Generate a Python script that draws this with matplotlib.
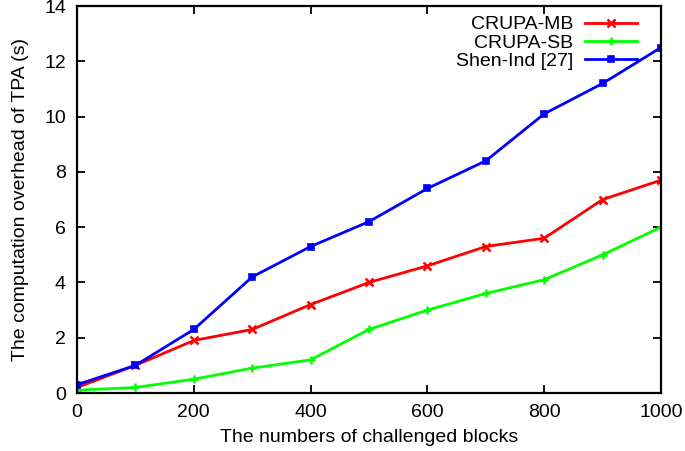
import matplotlib
matplotlib.use("Agg")
import matplotlib.pyplot as plt

plt.rcParams['font.family'] = ['Liberation Sans', 'DejaVu Sans']

# data
blocks = [0, 100, 200, 300, 400, 500, 600, 700, 800, 900, 1000]
crupa_mb = [0.2, 1.0, 1.9, 2.3, 3.2, 4.0, 4.6, 5.3, 5.6, 7.0, 7.7]
crupa_sb = [0.1, 0.2, 0.5, 0.9, 1.2, 2.3, 3.0, 3.6, 4.1, 5.0, 6.0]
shen_ind = [0.3, 1.0, 2.3, 4.2, 5.3, 6.2, 7.4, 8.4, 10.1, 11.2, 12.5]

fig = plt.figure(figsize=(6.85, 4.51), dpi=100)
ax = fig.add_axes([0.1124, 0.1286, 0.8526, 0.858])

ax.plot(blocks, crupa_mb, color='#ff0000', lw=2, marker='x', ms=6, mew=1.8, label='CRUPA-MB')
ax.plot(blocks, crupa_sb, color='#00ff00', lw=2, marker='+', ms=6, mew=1.8, label='CRUPA-SB')
ax.plot(blocks, shen_ind, color='#0000ff', lw=2, marker='s', ms=5, mew=1.2, label='Shen-Ind [27]')

ax.set_xlim(0, 1000)
ax.set_ylim(0, 14)
ax.set_xticks(range(0, 1001, 200))
ax.set_yticks(range(0, 15, 2))
ax.tick_params(direction='in', top=True, right=True, length=6, width=1.3,
               labelsize=14, pad=8)
for s in ax.spines.values():
    s.set_linewidth(1.6)

ax.set_xlabel('The numbers of challenged blocks', fontsize=14, labelpad=6)
ax.set_ylabel('The computation overhead of TPA (s)', fontsize=14, labelpad=11)

# gnuplot-style key: label on the left, sample on the right
leg = ax.legend(loc='upper right', bbox_to_anchor=(0.973, 0.995), markerfirst=False,
                frameon=False, fontsize=14, handlelength=2.7, borderaxespad=0,
                labelspacing=0.03, handletextpad=0.6)

fig.savefig('out.png', dpi=100)
